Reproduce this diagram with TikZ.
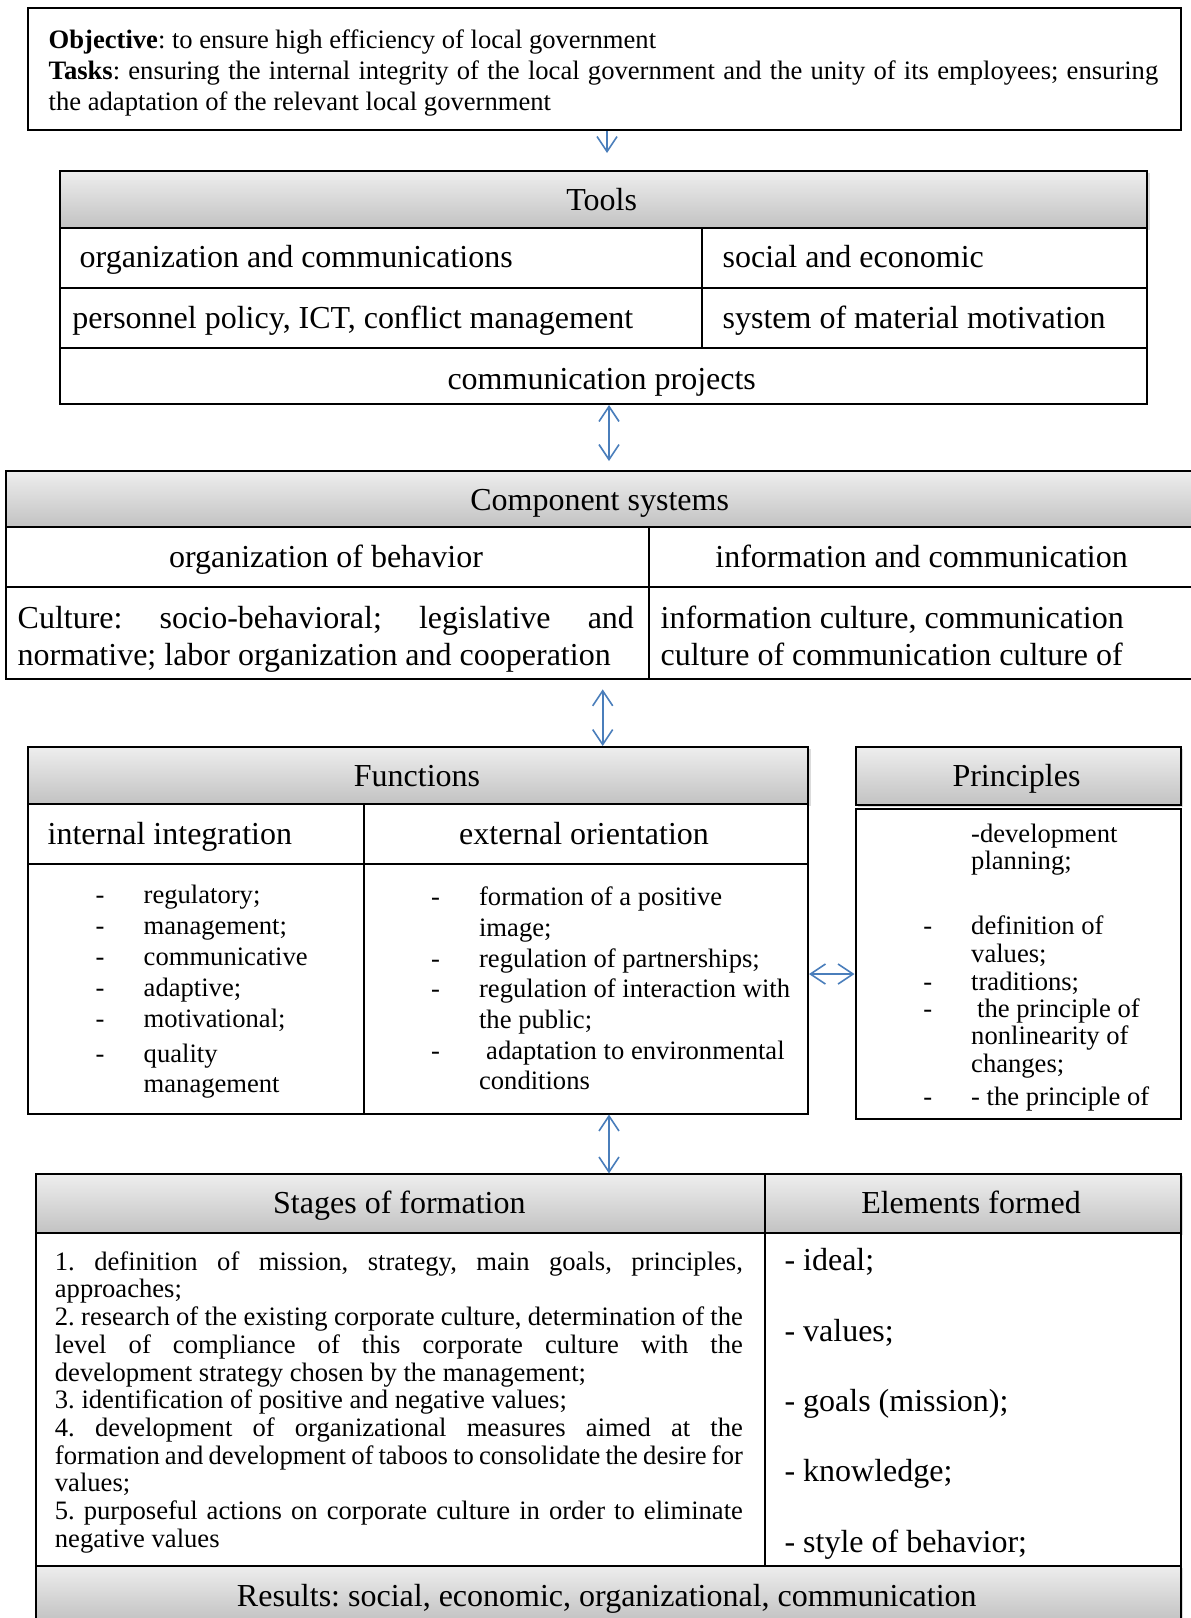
\documentclass[tikz,border=0pt]{standalone}
\usepackage{fontspec}
\setmainfont{Liberation Serif}
\usetikzlibrary{arrows.meta,shadows}
\definecolor{linkblue}{RGB}{74,126,187}
\definecolor{hdrtop}{RGB}{238,238,238}
\definecolor{hdrbot}{RGB}{194,194,194}
\newcommand\FontBig{\fontsize{32}{37}\selectfont}
\newcommand\FontSmall{\fontsize{26.6}{31}\selectfont}
\newcommand\FontTight{\fontsize{26.6}{27.7}\selectfont}
% normal interword spacing inside text blocks, and a justified single line
\newcommand\plainspaces{\spaceskip=0pt\relax\xspaceskip=0pt\relax}
\newcommand\jline[2]{\makebox[#1][s]{\plainspaces#2}}

\begin{document}
\frenchspacing
\begin{tikzpicture}[x=1pt,y=-1pt,
  box/.style={draw=black, line width=2pt, fill=white, rectangle, inner sep=0pt, anchor=north west},
  hdr/.style={box, top color=hdrtop, bottom color=hdrbot,
    drop shadow={shadow xshift=2.5pt, shadow yshift=-2pt, fill=black!14, opacity=1}},
  big/.style={font=\FontBig, inner sep=0pt, yshift=-1.8pt},
  small/.style={font=\FontSmall, inner sep=0pt, yshift=-1pt},
  barb/.tip={Straight Barb[length=15pt,width=20pt]},
  link/.style={draw=linkblue, line width=1.6pt, barb-barb},
  linkone/.style={draw=linkblue, line width=1.6pt, -barb}]

\useasboundingbox (0,0) rectangle (1191,1618);

% ---------- objective and tasks ----------
\node[box, minimum width=1153pt, minimum height=122pt] (obj) at (27,7) {};
\node[small, anchor=north west, text width=1114pt, align=left] (objtxt) at (48.5,27.5)
  {\plainspaces\rule{0pt}{20pt}\textbf{Objective}: to ensure high efficiency of local government\\
   \jline{1109.5pt}{\textbf{Tasks}: ensuring the internal integrity of the local government and the unity of its employees; ensuring}\\
   the adaptation of the relevant local government};

% ---------- tools ----------
\node[hdr, minimum width=1087pt, minimum height=57pt] (toolsh) at (59,170) {};
\node[box, minimum width=641.7pt, minimum height=60pt] (tr1a) at (59,227) {};
\node[box, minimum width=445.3pt, minimum height=60pt] (tr1b) at (700.7,227) {};
\node[box, minimum width=641.7pt, minimum height=60pt] (tr2a) at (59,287) {};
\node[box, minimum width=445.3pt, minimum height=60pt] (tr2b) at (700.7,287) {};
\node[box, minimum width=1087pt, minimum height=56pt] (tr3) at (59,347) {};

\node[big, anchor=base] (tl0) at (601.7,209) {Tools};
\node[big, anchor=base west] (tl1) at (79.5,266) {organization and communications};
\node[big, anchor=base west] (tl2) at (722.4,266) {social and economic};
\node[big, anchor=base west] (tl3) at (72.2,327) {personnel policy, ICT, conflict management};
\node[big, anchor=base west] (tl4) at (722.4,327) {system of material motivation};
\node[big, anchor=base] (tl5) at (601.7,388) {communication projects};

% ---------- component systems ----------
\node[hdr, minimum width=1190pt, minimum height=56.7pt] (comph) at (5.2,469.6) {};
\node[box, minimum width=642.8pt, minimum height=59.9pt] (cr1a) at (5.2,526.3) {};
\node[box, minimum width=547.2pt, minimum height=59.9pt] (cr1b) at (648,526.3) {};
\node[box, minimum width=642.8pt, minimum height=91.8pt] (cr2a) at (5.2,586.2) {};
\node[box, minimum width=547.2pt, minimum height=91.8pt] (cr2b) at (648,586.2) {};

\node[big, anchor=base] (cl0) at (599.6,508.5) {Component systems};
\node[big, anchor=base] (cl1) at (326,566) {organization of behavior};
\node[big, anchor=base] (cl2) at (921.6,566) {information and communication};
\node[big, anchor=north west, text width=622pt, align=left] (cl3) at (17.5,602)
  {\plainspaces\rule{0pt}{24pt}\jline{616.2pt}{Culture: socio-behavioral; legislative and}\\
   normative; labor organization and cooperation};
\node[big, anchor=north west, text width=530pt, align=left] (cl4) at (660.5,602)
  {\plainspaces\rule{0pt}{24pt}information culture, communication\\
   culture of communication culture of};

% ---------- functions ----------
\node[hdr, minimum width=780.2pt, minimum height=57pt] (fnh) at (26.8,746) {};
\node[box, minimum width=336.5pt, minimum height=59.8pt] (fr1a) at (26.8,803) {};
\node[box, minimum width=443.7pt, minimum height=59.8pt] (fr1b) at (363.3,803) {};
\node[box, minimum width=336.5pt, minimum height=249.7pt] (fba) at (26.8,862.8) {};
\node[box, minimum width=443.7pt, minimum height=249.7pt] (fbb) at (363.3,862.8) {};

\node[big, anchor=base] (fl0) at (417,785) {Functions};
\node[big, anchor=base west] (fl1) at (47.5,843) {internal integration};
\node[big, anchor=base] (fl2) at (584,843) {external orientation};

% internal integration list
\node[small, anchor=base] (fd1) at (100,902) {-};
\node[small, anchor=base] (fd2) at (100,933) {-};
\node[small, anchor=base] (fd3) at (100,964) {-};
\node[small, anchor=base] (fd4) at (100,995) {-};
\node[small, anchor=base] (fd5) at (100,1026) {-};
\node[small, anchor=base] (fd6) at (100,1061) {-};
\node[small, anchor=base west] (fi1) at (143.5,902) {regulatory;};
\node[small, anchor=base west] (fi2) at (143.5,933) {management;};
\node[small, anchor=base west] (fi3) at (143.5,964) {communicative};
\node[small, anchor=base west] (fi4) at (143.5,995) {adaptive;};
\node[small, anchor=base west] (fi5) at (143.5,1026) {motivational;};
\node[small, anchor=base west] (fi6) at (143.5,1061) {quality};
\node[small, anchor=base west] (fi7) at (143.5,1091) {management};

% external orientation list
\node[small, anchor=base] (gd1) at (435.5,904) {-};
\node[small, anchor=base] (gd2) at (435.5,966) {-};
\node[small, anchor=base] (gd3) at (435.5,996) {-};
\node[small, anchor=base] (gd4) at (435.5,1058) {-};
\node[small, anchor=base west] (ge1) at (478.9,904) {formation of a positive};
\node[small, anchor=base west] (ge2) at (478.9,935) {image;};
\node[small, anchor=base west] (ge3) at (478.9,966) {regulation of partnerships;};
\node[small, anchor=base west] (ge4) at (478.9,996) {regulation of interaction with};
\node[small, anchor=base west] (ge5) at (478.9,1027) {the public;};
\node[small, anchor=base west] (ge6) at (486,1058) {adaptation to environmental};
\node[small, anchor=base west] (ge7) at (478.9,1088) {conditions};

% ---------- principles ----------
\node[hdr, minimum width=325.1pt, minimum height=58pt] (prh) at (854.5,746) {};
\node[box, minimum width=325.1pt, minimum height=309.7pt] (prb) at (854.5,808) {};
\node[big, anchor=base] (pl0) at (1016.5,785) {Principles};

\node[small, anchor=base] (pd1) at (927.8,933) {-};
\node[small, anchor=base] (pd2) at (927.8,989) {-};
\node[small, anchor=base] (pd3) at (927.8,1016.5) {-};
\node[small, anchor=base] (pd4) at (927.8,1104.5) {-};
\node[small, anchor=base west] (pp1) at (971,841.5) {-development};
\node[small, anchor=base west] (pp2) at (971,868) {planning;};
\node[small, anchor=base west] (pp3) at (971,933) {definition of};
\node[small, anchor=base west] (pp4) at (971,961) {values;};
\node[small, anchor=base west] (pp5) at (971,989) {traditions;};
\node[small, anchor=base west] (pp6) at (977,1016.5) {the principle of};
\node[small, anchor=base west] (pp7) at (971,1043.5) {nonlinearity of};
\node[small, anchor=base west] (pp8) at (971,1071.5) {changes;};
\node[small, anchor=base west] (pp9) at (971,1104.5) {- the principle of};

% ---------- stages and elements ----------
\node[hdr, minimum width=728.7pt, minimum height=58.8pt] (sth) at (35,1173.4) {};
\node[hdr, minimum width=415.9pt, minimum height=58.8pt] (elh) at (763.7,1173.4) {};
\node[box, minimum width=728.7pt, minimum height=332.3pt] (stb) at (35,1232.2) {};
\node[box, minimum width=415.9pt, minimum height=332.3pt] (elb) at (763.7,1232.2) {};
\node[hdr, minimum width=1144.6pt, minimum height=56pt] (res) at (35,1564.5) {};

\node[big, anchor=base] (sl0) at (399.4,1212) {Stages of formation};
\node[big, anchor=base] (el0) at (971,1212) {Elements formed};

\node[small, font=\FontTight, anchor=north west, text width=692pt, align=left] (stages) at (54.7,1249)
  {\plainspaces\rule{0pt}{20pt}\jline{688pt}{1. definition of mission, strategy, main goals, principles,}\\
   approaches;\\
   \jline{688pt}{2. research of the existing corporate culture, determination of the}\\
   \jline{688pt}{level of compliance of this corporate culture with the}\\
   development strategy chosen by the management;\\
   3. identification of positive and negative values;\\
   \jline{688pt}{4. development of organizational measures aimed at the}\\
   \jline{688pt}{formation and development of taboos to consolidate the desire for}\\
   values;\\
   \jline{688pt}{5. purposeful actions on corporate culture in order to eliminate}\\
   negative values};

\node[big, anchor=base west] (e1) at (784.3,1269) {- ideal;};
\node[big, anchor=base west] (e2) at (784.3,1340) {- values;};
\node[big, anchor=base west] (e3) at (784.3,1409.5) {- goals (mission);};
\node[big, anchor=base west] (e4) at (784.3,1479.6) {- knowledge;};
\node[big, anchor=base west] (e5) at (784.3,1551) {- style of behavior;};

\node[big, anchor=base] (rl) at (606.8,1605) {Results: social, economic, organizational, communication};

% ---------- connectors ----------
\coordinate (a1e) at (607,153);
\draw[linkone] (obj.south -| a1e) -- (a1e);
\coordinate (a2e) at (609,461);
\draw[link] (tr3.south -| a2e) -- (a2e);
\coordinate (a3s) at (602.7,689.4);
\draw[link] (a3s) -- (fnh.north -| a3s);
\coordinate (a4x) at (609,1140);
\draw[link] (fbb.south -| a4x) -- (sth.north -| a4x);
\coordinate (hy) at (830,974);
\draw[link] (fbb.east |- hy) -- (prb.west |- hy);

\end{tikzpicture}
\end{document}
